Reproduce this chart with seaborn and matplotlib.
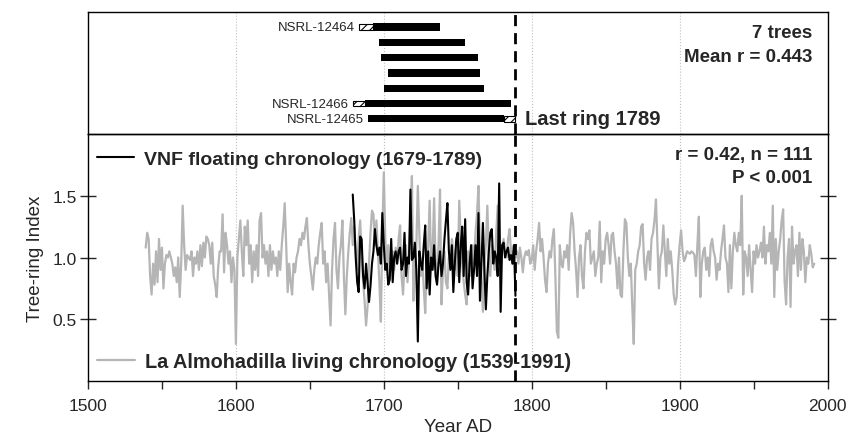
import numpy as np
import pandas as pd
import matplotlib.pyplot as plt
import seaborn as sns
from matplotlib.lines import Line2D
from matplotlib.ticker import MultipleLocator

# La Almohadilla living chronology, 1539-1991
living_start = 1539
living_index = [
    1.08, 1.20, 1.15, 0.85, 0.70, 0.95, 0.78, 1.05, 0.80, 1.15,
    0.90, 1.08, 0.75, 0.95, 1.02, 1.00, 1.05, 1.00, 0.95, 0.85,
    0.92, 0.80, 1.00, 0.68, 0.95, 1.42, 1.10, 0.90, 1.02, 1.00,
    0.98, 1.05, 0.85, 1.00, 0.95, 1.05, 0.90, 1.10, 0.93, 1.12,
    1.00, 1.17, 1.15, 1.10, 0.95, 1.12, 0.85, 0.78, 0.68, 0.92,
    1.05, 1.05, 1.35, 0.88, 1.20, 1.10, 0.95, 1.05, 0.80, 1.00,
    0.90, 0.30, 1.00, 1.15, 1.30, 1.05, 0.85, 1.25, 1.10, 1.30,
    0.95, 1.10, 0.80, 1.05, 0.90, 1.10, 0.85, 1.30, 1.36, 1.00,
    1.10, 0.95, 1.05, 0.85, 1.10, 0.90, 1.05, 0.95, 1.00, 0.85,
    1.05, 0.90, 1.10, 1.25, 1.44, 1.10, 0.72, 0.95, 0.80, 0.70,
    0.95, 0.88, 1.00, 1.05, 1.15, 1.10, 1.20, 1.15, 1.25, 1.32,
    1.10, 0.95, 0.85, 0.74, 0.90, 1.00, 0.95, 1.10, 1.20, 1.28,
    0.95, 1.05, 0.80, 0.95, 0.70, 0.45, 0.90, 1.15, 1.28, 0.90,
    0.75, 1.00, 1.10, 1.30, 0.85, 0.54, 0.85, 1.05, 1.20, 1.32,
    1.10, 1.25, 1.05, 0.90, 1.15, 1.30, 1.05, 0.80, 0.65, 0.45,
    0.60, 0.95, 1.20, 1.38, 1.35, 1.10, 1.30, 1.05, 0.80, 0.48,
    1.20, 1.69, 1.15, 0.95, 1.10, 0.85, 1.00, 1.05, 0.90, 1.08,
    0.95, 1.15, 1.26, 0.85, 0.70, 0.95, 1.10, 0.80, 1.00, 1.30,
    1.66, 0.65, 0.90, 1.10, 1.58, 1.20, 0.85, 1.00, 0.75, 0.55,
    0.95, 1.10, 1.46, 0.90, 1.05, 1.48, 0.95, 0.80, 1.10, 1.55,
    0.62, 0.90, 1.05, 0.80, 0.75, 1.00, 0.95, 1.15, 1.05, 0.90,
    1.10, 0.85, 1.46, 1.15, 0.95, 0.80, 0.70, 0.62, 1.05, 1.00,
    0.85, 1.10, 0.95, 1.20, 1.35, 1.58, 1.05, 0.80, 0.56, 0.95,
    1.10, 1.42, 1.00, 0.85, 1.10, 1.05, 0.90, 1.20, 1.42, 1.05,
    0.95, 1.10, 1.15, 1.05, 1.00, 1.15, 1.23, 1.05, 0.95, 1.10,
    1.00, 1.05, 0.95, 1.08, 1.00, 0.88, 1.00, 1.05, 1.02, 1.06,
    0.95, 0.98, 1.10, 0.90, 1.05, 1.15, 1.28, 1.05, 1.15, 1.00,
    0.82, 0.72, 0.95, 1.05, 1.00, 1.15, 1.23, 0.85, 0.40, 0.35,
    1.10, 0.95, 0.92, 1.05, 1.00, 1.10, 0.90, 1.20, 1.36, 1.28,
    1.05, 0.90, 0.68, 1.00, 1.10, 0.85, 0.75, 1.05, 1.20, 1.15,
    1.22, 0.95, 1.00, 1.05, 0.85, 0.95, 1.00, 1.29, 0.80, 1.05,
    0.95, 1.15, 1.20, 1.10, 0.95, 1.18, 1.20, 1.05, 0.95, 0.75,
    1.00, 0.70, 0.68, 1.05, 1.31, 1.28, 1.00, 0.85, 0.95, 0.60,
    0.30, 0.90, 0.95, 1.05, 1.10, 1.25, 1.27, 0.95, 0.82, 1.00,
    1.05, 0.90, 1.15, 1.20, 1.30, 1.47, 1.10, 0.75, 1.00, 1.05,
    1.26, 1.05, 0.85, 1.15, 0.95, 1.05, 0.90, 0.70, 0.62, 0.68,
    0.95, 1.10, 1.22, 1.05, 0.97, 1.00, 1.05, 1.04, 1.03, 1.05,
    1.04, 1.02, 0.85, 1.10, 1.33, 0.68, 0.95, 1.05, 1.08, 0.90,
    1.00, 0.85, 1.10, 1.15, 1.05, 1.00, 0.82, 0.95, 0.90, 1.05,
    1.15, 1.26, 1.00, 0.95, 0.72, 1.10, 0.75, 1.05, 1.20, 1.10,
    1.05, 1.20, 1.10, 1.50, 0.70, 1.05, 1.00, 0.85, 1.10, 0.90,
    0.72, 1.05, 0.95, 1.10, 1.00, 1.05, 1.12, 1.00, 1.25, 0.95,
    1.10, 1.05, 1.20, 0.95, 1.42, 0.68, 1.15, 0.90, 1.05, 1.15,
    1.30, 1.39, 0.80, 0.62, 1.00, 1.15, 0.60, 1.25, 0.95, 1.05,
    1.10, 0.85, 1.20, 0.90, 1.15, 1.05, 0.80, 1.00, 0.95, 1.10,
    1.03, 0.92, 0.95,
]

# VNF floating chronology, 1679-1789
floating_start = 1679
floating_index = [
    1.51, 1.30, 1.00, 0.80, 0.72, 1.17, 1.15, 0.85, 0.75, 0.95,
    0.80, 0.64, 0.77, 0.95, 1.05, 1.23, 1.10, 1.02, 1.08, 0.95,
    1.36, 1.10, 0.90, 0.95, 0.78, 0.82, 1.15, 0.80, 1.00, 1.05,
    0.95, 1.05, 1.08, 0.90, 0.95, 1.20, 0.85, 1.00, 0.95, 1.55,
    0.98, 1.00, 1.12, 0.90, 0.32, 1.05, 0.95, 0.90, 1.10, 1.26,
    0.75, 1.05, 0.70, 1.00, 0.90, 1.10, 0.85, 0.78, 0.95, 1.05,
    0.85, 0.95, 1.15, 1.30, 1.44, 1.05, 0.90, 1.10, 0.72, 0.95,
    1.15, 1.20, 0.80, 1.10, 1.25, 0.85, 1.31, 0.80, 0.70, 0.95,
    1.10, 0.75, 0.90, 1.10, 0.85, 1.36, 0.65, 0.95, 1.28, 0.90,
    0.58, 0.85, 1.05, 1.20, 1.23, 0.95, 1.05, 1.00, 0.85, 1.60,
    0.56, 1.10, 1.12, 1.00, 1.05, 1.08, 0.98, 1.02, 0.95, 1.10,
    0.69,
]

# sample timeline (top panel), rows top to bottom
sample_labels = ['NSRL-12464', '', '', '', '', 'NSRL-12466', 'NSRL-12465']
ring_start = [1693, 1697, 1698, 1703, 1700, 1687, 1689]
ring_end = [1738, 1755, 1764, 1765, 1768, 1786, 1781]
est_before = [1683, np.nan, np.nan, np.nan, np.nan, 1679, np.nan]
est_after = [np.nan, np.nan, np.nan, np.nan, np.nan, np.nan, 1789]
last_ring = 1789

living = pd.DataFrame({'year': np.arange(living_start, living_start + len(living_index)),
                       'index': living_index})
floating = pd.DataFrame({'year': np.arange(floating_start, floating_start + len(floating_index)),
                         'index': floating_index})

sns.set_style('white')
plt.rcParams['font.family'] = ['Liberation Sans', 'DejaVu Sans']
plt.rcParams['hatch.linewidth'] = 0.8
plt.rcParams['axes.linewidth'] = 1.0

gray = '#b5b5b5'
fig = plt.figure(figsize=(8.47, 4.39), dpi=100)
ax_top = fig.add_axes([0.1039, 0.6925, 0.8731, 0.2779])
ax = fig.add_axes([0.1039, 0.1298, 0.8731, 0.5627], sharex=ax_top)
ax.patch.set_alpha(0)

# top panel: sample bars
for i in range(len(ring_start)):
    ax_top.barh(i, ring_end[i] - ring_start[i], left=ring_start[i], height=0.46,
                color='black', edgecolor='black', linewidth=0)
    first = ring_start[i]
    if not np.isnan(est_before[i]):
        ax_top.barh(i, ring_start[i] - est_before[i], left=est_before[i], height=0.33,
                    color='white', edgecolor='black', hatch='////', linewidth=0.8)
        first = est_before[i]
    if not np.isnan(est_after[i]):
        ax_top.barh(i, est_after[i] - ring_end[i], left=ring_end[i], height=0.33,
                    color='white', edgecolor='black', hatch='////', linewidth=0.8)
    if sample_labels[i]:
        ax_top.text(first - 2.8, i, sample_labels[i], ha='right', va='center',
                    fontsize=9.5, family=['Liberation Sans Narrow', 'Liberation Sans'])

ax_top.set_ylim(6.98, -0.98)
ax_top.axvline(last_ring, color='black', lw=2, ls=(0, (4, 2.5)), zorder=5)
ax_top.text(last_ring + 6.5, 6, 'Last ring 1789', ha='left', va='center',
            fontsize=14.5, fontweight='bold')
ax_top.text(0.979, 0.836, '7 trees', transform=ax_top.transAxes, ha='right', va='center',
            fontsize=13.5, fontweight='bold')
ax_top.text(0.979, 0.639, 'Mean r = 0.443', transform=ax_top.transAxes, ha='right', va='center',
            fontsize=13.5, fontweight='bold')
ax_top.set_yticks([])
ax_top.tick_params(axis='x', which='both', bottom=False, labelbottom=False)
ax_top.grid(axis='x', ls=':', color='#c0c0c0', lw=0.8)
ax_top.set_axisbelow(True)

# bottom panel: chronologies
sns.lineplot(data=living, x='year', y='index', ax=ax, color=gray, lw=1.6, legend=False)
sns.lineplot(data=floating, x='year', y='index', ax=ax, color='black', lw=1.5, legend=False)
ax.axvline(last_ring, color='black', lw=2, ls=(0, (4, 2.5)), zorder=5)

ax.set_xlim(1500, 2000)
ax.set_ylim(0, 2)
ax.xaxis.set_major_locator(MultipleLocator(100))
ax.xaxis.set_minor_locator(MultipleLocator(50))
ax.set_yticks([0.5, 1.0, 1.5])
ax.set_yticklabels(['0.5', '1.0', '1.5'])
ax.tick_params(axis='x', which='both', direction='out', length=6, width=1, bottom=True,
               labelsize=12.5, pad=6)
ax.tick_params(axis='y', direction='inout', length=12, width=1, left=True, right=True,
               labelsize=12.5, pad=2)
ax.grid(axis='x', ls=':', color='#c0c0c0', lw=0.8)
ax.set_axisbelow(True)
for s in ax.spines.values():
    s.set_color('black')
for s in ax_top.spines.values():
    s.set_color('black')
    s.set_zorder(4)

ax.set_xlabel('Year AD', fontsize=13.5, labelpad=4)
ax.set_ylabel('Tree-ring Index', fontsize=13.5, labelpad=6)

leg1 = ax.legend(handles=[Line2D([], [], color='black', lw=1.5)],
                 labels=['VNF floating chronology (1679-1789)'],
                 loc='center left', bbox_to_anchor=(0.012, 0.899), frameon=False,
                 prop={'weight': 'bold', 'size': 14}, handlelength=1.9,
                 handletextpad=0.5, borderpad=0, borderaxespad=0)
ax.add_artist(leg1)
ax.legend(handles=[Line2D([], [], color=gray, lw=1.6)],
          labels=['La Almohadilla living chronology (1539-1991)'],
          loc='center left', bbox_to_anchor=(0.012, 0.081), frameon=False,
          prop={'weight': 'bold', 'size': 14.3}, handlelength=1.9,
          handletextpad=0.5, borderpad=0, borderaxespad=0)

ax.text(0.979, 0.919, 'r = 0.42, n = 111', transform=ax.transAxes, ha='right', va='center',
        fontsize=13.5, fontweight='bold')
ax.text(0.979, 0.822, 'P < 0.001', transform=ax.transAxes, ha='right', va='center',
        fontsize=13.5, fontweight='bold')

fig.savefig('out.png', dpi=100)
